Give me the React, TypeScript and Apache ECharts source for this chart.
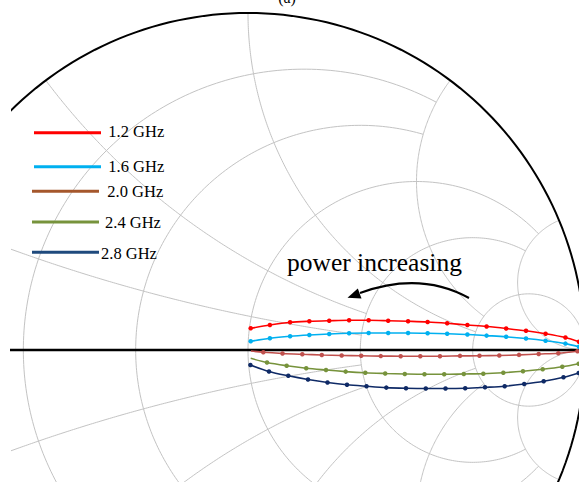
import React, { useEffect, useRef } from "react";
import * as echarts from "echarts";

// Smith chart grid definition (normalized values and trimming limits)
const RESISTANCE_VALUES = [0.2, 0.5, 1, 2, 5];
const RESISTANCE_LIMITS = [2, 2, 5, 5, Infinity];
const REACTANCE_VALUES = [0.2, 0.5, 1, 2, 5];
const REACTANCE_LIMITS = [2, 2, 5, 5, Infinity];

// Series (reflection coefficient, real / imaginary parts)
const SERIES_NAMES = ["1.2 GHz", "1.6 GHz", "2.0 GHz", "2.4 GHz", "2.8 GHz"];

const RE_12 = [0.008, 0.065, 0.125, 0.182, 0.241, 0.3, 0.358, 0.416, 0.475, 0.533, 0.591, 0.651, 0.708, 0.766, 0.825, 0.883, 0.942, 0.982];
const IM_12 = [0.0644, 0.0742, 0.0822, 0.0852, 0.0869, 0.0881, 0.0881, 0.0869, 0.0852, 0.0831, 0.0792, 0.0742, 0.0697, 0.0638, 0.057, 0.0484, 0.0371, 0.0246];

const RE_16 = [0.008, 0.065, 0.125, 0.182, 0.241, 0.3, 0.358, 0.416, 0.475, 0.533, 0.591, 0.651, 0.708, 0.766, 0.825, 0.883, 0.942, 0.982];
const IM_16 = [0.0258, 0.0347, 0.0407, 0.0445, 0.0475, 0.0496, 0.0504, 0.0504, 0.0504, 0.0496, 0.0481, 0.046, 0.0427, 0.0392, 0.0341, 0.0276, 0.019, 0.0098];

const RE_20 = [0.0089, 0.0454, 0.1024, 0.1611, 0.219, 0.278, 0.3359, 0.3941, 0.4531, 0.5113, 0.5697, 0.6291, 0.6869, 0.7457, 0.8042, 0.8626, 0.9208, 0.9777];
const IM_20 = [-0.003, -0.0068, -0.0104, -0.0128, -0.0148, -0.0163, -0.0172, -0.0181, -0.0184, -0.0184, -0.0184, -0.0175, -0.0172, -0.0163, -0.0145, -0.0119, -0.0095, -0.0036];
const MARK_20 = [false, true, true, true, true, true, true, true, true, true, true, true, true, true, true, true, true, true];

const RE_24 = [0.008, 0.0564, 0.1148, 0.1727, 0.2315, 0.2899, 0.3481, 0.4071, 0.4653, 0.5237, 0.5822, 0.6404, 0.6982, 0.7576, 0.816, 0.8745, 0.9326, 0.9813];
const IM_24 = [-0.0246, -0.0371, -0.0466, -0.054, -0.0593, -0.0641, -0.0677, -0.0697, -0.0712, -0.0721, -0.0721, -0.0712, -0.0703, -0.0674, -0.0632, -0.0573, -0.0499, -0.0409];
const MARK_24 = [false, true, true, true, true, true, true, true, true, true, true, true, true, true, true, true, true, true];

const RE_28 = [0.0071, 0.0623, 0.1196, 0.178, 0.2359, 0.2938, 0.3516, 0.4104, 0.4688, 0.5276, 0.5861, 0.6445, 0.7033, 0.7617, 0.8196, 0.8774, 0.9362, 0.9813];
const IM_28 = [-0.0445, -0.0638, -0.0766, -0.0875, -0.0964, -0.1033, -0.1077, -0.1116, -0.1134, -0.1142, -0.1142, -0.1134, -0.1107, -0.1074, -0.1009, -0.0926, -0.081, -0.0682];

const CURVE_COLORS = ["#FF0000", "#00B0F0", "#C0504D", "#77933C", "#0F2A66"];
const LEGEND_COLORS = ["#FF0000", "#00B0F0", "#A5572C", "#77933C", "#1F4A7D"];

const ANNOTATION = "power increasing";
const PANEL_LABEL = "(a)";

const FONT = "Liberation Serif";

function gamma(r: number, x: number): [number, number] {
  const d = (r + 1) * (r + 1) + x * x;
  return [(r * r - 1 + x * x) / d, (2 * x) / d];
}

function resistanceArc(r: number, lim: number): number[][] {
  const c = r / (1 + r);
  const R = 1 / (1 + r);
  let t0 = 0;
  if (isFinite(lim)) {
    const g = gamma(r, lim);
    t0 = Math.atan2(g[1], g[0] - c);
  }
  const t1 = 2 * Math.PI - t0;
  const pts: number[][] = [];
  const n = 240;
  for (let i = 0; i <= n; i++) {
    const t = t0 + ((t1 - t0) * i) / n;
    pts.push([c + R * Math.cos(t), R * Math.sin(t)]);
  }
  return pts;
}

function reactanceArc(x: number, lim: number, sign: number): number[][] {
  const cy = 1 / x;
  const R = 1 / x;
  const g0 = gamma(0, x);
  let p0 = Math.atan2(g0[1] - cy, g0[0] - 1);
  if (p0 > 0) p0 -= 2 * Math.PI;
  let p1 = -Math.PI / 2;
  if (isFinite(lim)) {
    const g1 = gamma(lim, x);
    p1 = Math.atan2(g1[1] - cy, g1[0] - 1);
    if (p1 > 0) p1 -= 2 * Math.PI;
  }
  const pts: number[][] = [];
  const n = 200;
  for (let i = 0; i <= n; i++) {
    const p = p0 + ((p1 - p0) * i) / n;
    pts.push([1 + R * Math.cos(p), sign * (cy + R * Math.sin(p))]);
  }
  return pts;
}

function buildOption() {
  const series: any[] = [];
  const gridStyle = { color: "#C3C3C3", width: 1 };

  RESISTANCE_VALUES.forEach((r, i) => {
    series.push({
      type: "line",
      data: resistanceArc(r, RESISTANCE_LIMITS[i]),
      showSymbol: false,
      lineStyle: gridStyle,
      z: 1,
      silent: true,
    });
  });
  REACTANCE_VALUES.forEach((x, i) => {
    [1, -1].forEach((s) => {
      series.push({
        type: "line",
        data: reactanceArc(x, REACTANCE_LIMITS[i], s),
        showSymbol: false,
        lineStyle: gridStyle,
        z: 1,
        silent: true,
      });
    });
  });

  // outer unit circle
  series.push({
    type: "line",
    data: resistanceArc(0, Infinity),
    showSymbol: false,
    lineStyle: { color: "#000", width: 2 },
    z: 2,
    silent: true,
  });
  // real axis
  series.push({
    type: "line",
    data: [
      [-1, 0],
      [1, 0],
    ],
    showSymbol: false,
    lineStyle: { color: "#000", width: 2.4 },
    z: 2,
    silent: true,
  });

  const sets = [
    { re: RE_12, im: IM_12, mk: null as boolean[] | null },
    { re: RE_16, im: IM_16, mk: null },
    { re: RE_20, im: IM_20, mk: MARK_20 },
    { re: RE_24, im: IM_24, mk: MARK_24 },
    { re: RE_28, im: IM_28, mk: null },
  ];
  sets.forEach((s, k) => {
    series.push({
      type: "line",
      name: SERIES_NAMES[k],
      data: s.re.map((v, i) => ({
        value: [v, s.im[i]],
        symbol: s.mk && !s.mk[i] ? "none" : "circle",
      })),
      smooth: 0.3,
      symbol: "circle",
      symbolSize: 4.5,
      showSymbol: true,
      lineStyle: { color: CURVE_COLORS[k], width: 1.6 },
      itemStyle: { color: CURVE_COLORS[k] },
      z: 5,
      silent: true,
    });
  });

  const legendLines = [
    { x1: 34, x2: 101, y: 132.7, tx: 108.3, ty: 131 },
    { x1: 34, x2: 101, y: 166.7, tx: 108.3, ty: 166 },
    { x1: 32, x2: 99, y: 191.3, tx: 107.3, ty: 191 },
    { x1: 32, x2: 99, y: 222, tx: 105, ty: 222.2 },
    { x1: 32, x2: 99, y: 252.3, tx: 101, ty: 253 },
  ];
  const graphic: any[] = [];
  legendLines.forEach((l, k) => {
    graphic.push({
      type: "line",
      shape: { x1: l.x1, y1: l.y, x2: l.x2, y2: l.y },
      style: { stroke: LEGEND_COLORS[k], lineWidth: 3 },
      z: 100,
    });
    graphic.push({
      type: "text",
      x: l.tx,
      y: l.ty,
      style: {
        text: SERIES_NAMES[k],
        fill: "#000",
        fontSize: 16.5,
        fontFamily: FONT,
        align: "left",
        verticalAlign: "middle",
      },
      z: 100,
    });
  });

  graphic.push({
    type: "text",
    x: 287,
    y: 262.5,
    style: {
      text: ANNOTATION,
      fill: "#000",
      fontSize: 25.5,
      fontFamily: FONT,
      align: "left",
      verticalAlign: "middle",
    },
    z: 100,
  });
  graphic.push({
    type: "bezierCurve",
    shape: { x1: 469, y1: 298, x2: 360, y2: 293, cpx1: 420, cpy1: 271 },
    style: { stroke: "#000", lineWidth: 2, fill: null },
    z: 100,
  });
  graphic.push({
    type: "polygon",
    shape: {
      points: [
        [347.5, 297.8],
        [361.5, 298.6],
        [357.8, 288.4],
      ],
    },
    style: { fill: "#000" },
    z: 100,
  });
  graphic.push({
    type: "text",
    x: 287,
    y: 5,
    style: {
      text: PANEL_LABEL,
      fill: "#000",
      fontSize: 16,
      fontFamily: FONT,
      align: "center",
      verticalAlign: "bottom",
    },
    z: 100,
  });

  return {
    animation: false,
    backgroundColor: "#ffffff",
    grid: { left: 12, right: 0, top: 0, bottom: 0, containLabel: false },
    xAxis: {
      type: "value",
      min: -0.7003,
      max: 0.9822,
      show: false,
      splitLine: { show: false },
    },
    yAxis: {
      type: "value",
      min: -0.39169,
      max: 1.03858,
      show: false,
      splitLine: { show: false },
    },
    series,
    graphic,
  };
}

export default function App() {
  const ref = useRef<HTMLDivElement>(null);
  useEffect(() => {
    if (!ref.current) return;
    const chart = echarts.init(ref.current, undefined, { renderer: "svg" });
    chart.setOption(buildOption() as any);
    return () => {
      chart.dispose();
    };
  }, []);
  return (
    <div
      ref={ref}
      style={{
        position: "fixed",
        left: 0,
        top: 0,
        width: 579,
        height: 482,
        background: "#fff",
      }}
    />
  );
}
